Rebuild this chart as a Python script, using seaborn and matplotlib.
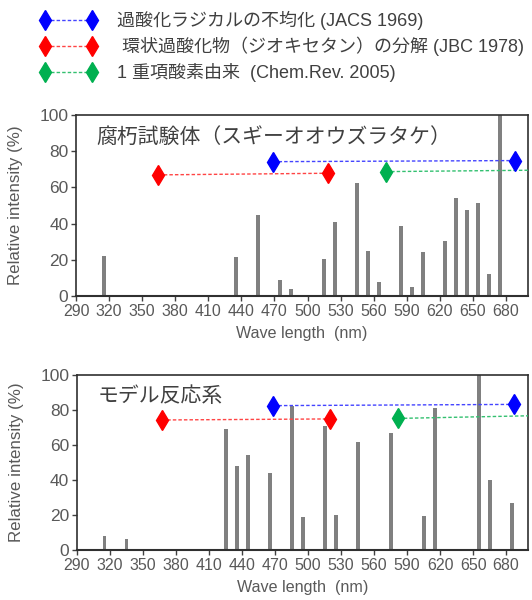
import matplotlib
matplotlib.use("Agg")
import matplotlib.pyplot as plt
import seaborn as sns
import pandas as pd

# top panel: decayed sample
top_wl = [315, 435, 455, 475, 485, 515, 525, 545, 555, 565, 585, 595, 605,
          625, 635, 645, 655, 665, 675]
top_val = [22.3, 21.4, 44.6, 8.8, 3.7, 20.3, 41, 62.2, 24.9, 7.6, 38.8, 5.2, 24.3,
           30.6, 54.1, 47.5, 51.4, 12.2, 100]

# bottom panel: model reaction
bot_wl = [315, 335, 425, 435, 445, 465, 485, 495, 515, 525, 545, 575, 605, 615,
          655, 665, 685]
bot_val = [8.0, 6.5, 69.3, 48.2, 54.3, 44, 82.3, 18.7, 70.9, 20, 61.5, 67, 19.2, 81,
           100, 39.8, 26.7]

# reference emission ranges (start, end) for each panel
top_ranges = {
    "blue": ([468.7, 688], [74.2, 74.8]),
    "red": ([364.6, 518.6], [66.9, 67.8]),
    "green": ([570.8, 725], [68.7, 69.6]),
}
bot_ranges = {
    "blue": ([468, 687], [82.5, 83.2]),
    "red": ([367, 520], [74.3, 74.9]),
    "green": ([582, 725], [75.2, 77.0]),
}

legend_labels = [
    "過酸化ラジカルの不均化 (JACS 1969)",
    " 環状過酸化物（ジオキセタン）の分解 (JBC 1978)",
    "1 重項酸素由来  (Chem.Rev. 2005)",
]
panel_titles = ["腐朽試験体（スギーオオウズラタケ）", "モデル反応系"]
xticks = [290, 320, 350, 380, 410, 440, 470, 500, 530, 560, 590, 620, 650, 680]
yticks = [0, 20, 40, 60, 80, 100]

colors = {"blue": "#0000FF", "red": "#FF0000", "green": "#00B050"}
line_colors = {"blue": "#4444FF", "red": "#FF4444", "green": "#33C070"}

sns.set_style("white")
plt.rcParams["font.family"] = ["Liberation Sans", "Noto Sans CJK JP", "DejaVu Sans"]

fig = plt.figure(figsize=(5.32, 6.0), dpi=100)
ax_top = fig.add_axes([0.1429, 0.5067, 0.8496, 0.3017])
ax_bot = fig.add_axes([0.1447, 0.0833, 0.848, 0.2917])

gray_txt = "#595959"


def draw_panel(ax, wl, vals, ranges, title, label_y):
    df = pd.DataFrame({"wl": wl, "val": vals})
    sns.barplot(data=df, x="wl", y="val", native_scale=True, color="#808080",
                saturation=1, width=0.36, errorbar=None, ax=ax, linewidth=0)
    for key in ["blue", "red", "green"]:
        xs, ys = ranges[key]
        ax.plot(xs, ys, linestyle=(0, (2.5, 1.5)), lw=1.0, color=line_colors[key],
                zorder=3)
        ax.plot(xs, ys, linestyle="none", marker="d", markersize=10,
                color=colors[key], zorder=4)
    ax.set_xlim(290, 700)
    ax.set_ylim(0, 100)
    ax.set_xticks(xticks)
    ax.set_yticks(yticks)
    ax.tick_params(axis="both", colors="#404040", labelcolor=gray_txt,
                   direction="out", length=3.5, width=1, pad=2, bottom=True, left=True)
    ax.tick_params(axis="x", labelsize=11.5)
    ax.tick_params(axis="y", labelsize=12.5)
    for sp in ax.spines.values():
        sp.set_color("#303030")
        sp.set_linewidth(1.2)
    ax.spines["bottom"].set_linewidth(1.5)
    ax.set_xlabel("Wave length  (nm)", fontsize=11.6, color=gray_txt)
    ax.set_ylabel("Relative intensity (%)", fontsize=12.2, color=gray_txt)
    ax.xaxis.set_label_coords(0.5, label_y)
    ax.yaxis.set_label_coords(-0.117, 0.5)
    ax.text(0.046, 0.88, title, transform=ax.transAxes, fontsize=15,
            color="#404040", va="center", ha="left")


draw_panel(ax_top, top_wl, top_val, top_ranges, panel_titles[0], -0.166)
draw_panel(ax_bot, bot_wl, bot_val, bot_ranges, panel_titles[1], -0.171)

# legend block at the top, in pixel coordinates
ax_leg = fig.add_axes([0, 0.84, 1, 0.16])
ax_leg.set_xlim(0, 532)
ax_leg.set_ylim(96, 0)
ax_leg.axis("off")
rows = [20, 46, 72]
for key, label, y in zip(["blue", "red", "green"], legend_labels, rows):
    ax_leg.plot([45, 92], [y, y], linestyle=(0, (2.5, 1.5)), lw=1.0,
                color=line_colors[key])
    ax_leg.plot([45, 92], [y, y], linestyle="none", marker="d", markersize=10,
                color=colors[key])
    ax_leg.text(117, y, label, fontsize=13, color="#404040", va="center", ha="left")

fig.savefig("out.png", dpi=100)
